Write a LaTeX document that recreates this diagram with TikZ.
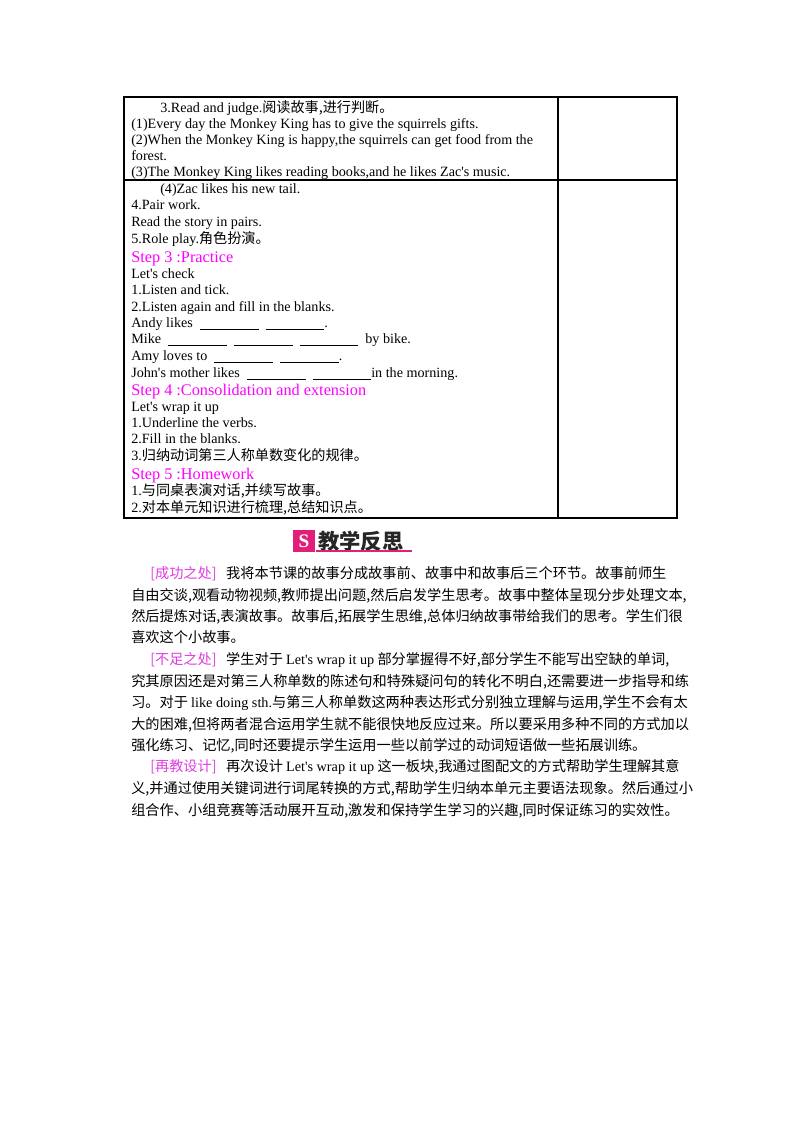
\documentclass[tikz,border=0pt]{standalone}
\usepackage{fontspec}
\setmainfont{Liberation Serif}
\newfontfamily\rs{Liberation Serif}
\newfontfamily\cjk{Noto Sans CJK SC}
\newcommand{\zh}[1]{{\cjk #1}}
\newcommand{\bl}{\underline{\hspace{44pt}}}
\definecolor{mag}{RGB}{255,0,255}
\definecolor{mag2}{RGB}{225,60,225}
\definecolor{pinkb}{RGB}{225,30,120}
\begin{document}
\begin{tikzpicture}[x=0.75pt,y=-0.75pt,
  t/.style={anchor=base west,inner sep=0pt,font=\fontsize{10.6}{12}\selectfont\rs},
  st/.style={t,text=mag,font=\fontsize{12.2}{14}\selectfont\rs},
  p/.style={anchor=base west,inner sep=0pt,font=\fontsize{10.65}{13}\selectfont\cjk}]
\useasboundingbox[fill=white] (0,0) rectangle (800,1132);
% table
\draw[line width=0.8pt] (124,97) rectangle (677,518);
\draw[line width=0.8pt] (558,97) -- (558,518);
\draw[line width=0.8pt] (124,180) -- (677,180);
\node[t] (a1) at (160,112) {3.Read and judge.\zh{阅读故事,进行判断。}};
\node[t] (a2) at (131,128) {(1)Every day the Monkey King has to give the squirrels gifts.};
\node[t] (a3) at (131,144) {(2)When the Monkey King is happy,the squirrels can get food from the};
\node[t] (a4) at (131,160) {forest.};
\node[t] (a5) at (131,176) {(3)The Monkey King likes reading books,and he likes Zac's music.};
\node[t] (b1) at (160,193) {(4)Zac likes his new tail.};
\node[t] (b2) at (131,209) {4.Pair work.};
\node[t] (b3) at (131,226) {Read the story in pairs.};
\node[t] (b4) at (131,243) {5.Role play.\zh{角色扮演。}};
\node[st] (s3) at (131,262) {Step 3 :Practice};
\node[t] (b5) at (131,278) {Let's check};
\node[t] (b6) at (131,294) {1.Listen and tick.};
\node[t] (b7) at (131,311) {2.Listen again and fill in the blanks.};
\node[t] (b8) at (131,327) {Andy likes \ \bl\ \ \bl.};
\node[t] (b9) at (131,343) {Mike \ \bl\ \ \bl\ \ \bl\ \ by bike.};
\node[t] (b10) at (131,360) {Amy loves to \ \bl\ \ \bl.};
\node[t] (b11) at (131,377) {John's mother likes \ \bl\ \ \bl in the morning.};
\node[st] (s4) at (131,395) {Step 4 :Consolidation and extension};
\node[t] (c1) at (131,411) {Let's wrap it up};
\node[t] (c2) at (131,427) {1.Underline the verbs.};
\node[t] (c3) at (131,443) {2.Fill in the blanks.};
\node[t] (c4) at (131,460) {3.\zh{归纳动词第三人称单数变化的规律。}};
\node[st] (s5) at (131,479) {Step 5 :Homework};
\node[t] (c5) at (131,495) {1.\zh{与同桌表演对话,并续写故事。}};
\node[t] (c6) at (131,512) {2.\zh{对本单元知识进行梳理,总结知识点。}};
% heading
\node[fill=pinkb,minimum size=16pt,inner sep=0pt,text=white,font=\bfseries\Large\rs] (icon) at (304,541) {S};
\node[anchor=west,inner sep=0pt,font=\fontsize{16}{18}\selectfont\cjk\bfseries,text=black!85] (hd) at (318,541) {教学反思};
\draw[pinkb,line width=0.8pt] (316,551) -- (412,551);
% paragraphs
\node[p] (p1) at (150,578) {{\color{mag2}[成功之处]}\ \ \ 我将本节课的故事分成故事前、故事中和故事后三个环节。故事前师生};
\node[p] (p2) at (131,600) {自由交谈,观看动物视频,教师提出问题,然后启发学生思考。故事中整体呈现分步处理文本,};
\node[p] (p3) at (131,621) {然后提炼对话,表演故事。故事后,拓展学生思维,总体归纳故事带给我们的思考。学生们很};
\node[p] (p4) at (131,642) {喜欢这个小故事。};
\node[p] (q1) at (150,664) {{\color{mag2}[不足之处]}\ \ \ 学生对于 {\rs Let's wrap it up} 部分掌握得不好,部分学生不能写出空缺的单词,};
\node[p] (q2) at (131,686) {究其原因还是对第三人称单数的陈述句和特殊疑问句的转化不明白,还需要进一步指导和练};
\node[p] (q3) at (131,707) {习。对于 {\rs like doing sth.}与第三人称单数这两种表达形式分别独立理解与运用,学生不会有太};
\node[p] (q4) at (131,729) {大的困难,但将两者混合运用学生就不能很快地反应过来。所以要采用多种不同的方式加以};
\node[p] (q5) at (131,750) {强化练习、记忆,同时还要提示学生运用一些以前学过的动词短语做一些拓展训练。};
\node[p] (r1) at (150,771) {{\color{mag2}[再教设计]}\ \ \ 再次设计 {\rs Let's wrap it up} 这一板块,我通过图配文的方式帮助学生理解其意};
\node[p] (r2) at (131,793) {义,并通过使用关键词进行词尾转换的方式,帮助学生归纳本单元主要语法现象。然后通过小};
\node[p] (r3) at (131,815) {组合作、小组竞赛等活动展开互动,激发和保持学生学习的兴趣,同时保证练习的实效性。};
\end{tikzpicture}
\end{document}
